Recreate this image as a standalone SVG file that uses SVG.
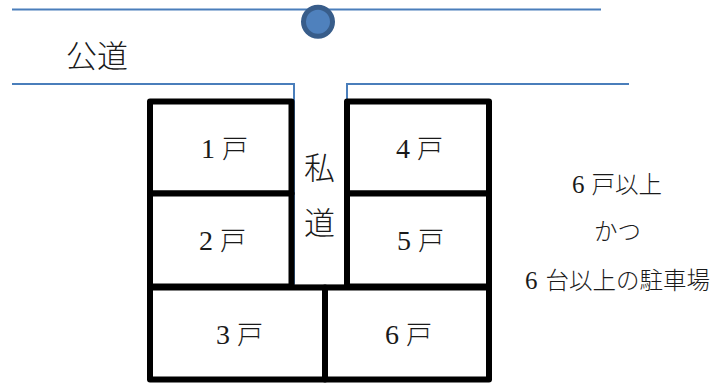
<svg xmlns="http://www.w3.org/2000/svg" width="728" height="383" viewBox="0 0 728 383">
<style>
.road{fill:none;stroke:#4a7ebb;stroke-width:2}
.lot{fill:#fff;stroke:#000;stroke-width:6;stroke-linejoin:round}
text{font-family:"Noto Sans CJK JP",sans-serif;font-weight:300;fill:#1a1a1a}
.n{font-size:26px}
.big{font-size:31px}
.note{font-size:23.500px}
.d{font-family:"Liberation Serif",serif;font-weight:400;font-size:28px}
.dn{font-family:"Liberation Serif",serif;font-weight:400;font-size:25px}
</style>
<rect width="728" height="383" fill="#fff"/>
<g id="connectors">
<path class="road" d="M12 9.500H601"/>
<path class="road" d="M12 84H294V285"/>
<path class="road" d="M629 84H347V100"/>
<path d="M294 285H345" fill="none" stroke="#999" stroke-width="1"/>
</g>
<g id="marker"><circle cx="318" cy="21.700" r="14.500" fill="#4f81bd" stroke="#385d8a" stroke-width="5"/></g>
<g id="road-label"><text class="big" x="66" y="67">公道</text></g>
<g id="lot1"><rect class="lot" x="150" y="101.500" width="141.500" height="92"/><text class="n" x="201" y="158"><tspan class="d">1</tspan><tspan dx="7">戸</tspan></text></g>
<g id="lot2"><rect class="lot" x="150" y="193.500" width="141.500" height="93"/><text class="n" x="199" y="250"><tspan class="d">2</tspan><tspan dx="7">戸</tspan></text></g>
<g id="lot4"><rect class="lot" x="347" y="101.500" width="142" height="92"/><text class="n" x="396" y="158"><tspan class="d">4</tspan><tspan dx="7">戸</tspan></text></g>
<g id="lot5"><rect class="lot" x="347" y="193.500" width="142" height="93"/><text class="n" x="397" y="250"><tspan class="d">5</tspan><tspan dx="7">戸</tspan></text></g>
<g id="lot3"><rect class="lot" x="150" y="287.500" width="175" height="92"/><text class="n" x="216" y="344"><tspan class="d">3</tspan><tspan dx="7">戸</tspan></text></g>
<g id="lot6"><rect class="lot" x="325" y="287.500" width="164" height="92"/><text class="n" x="385" y="344"><tspan class="d">6</tspan><tspan dx="7">戸</tspan></text></g>
<g id="private-road"><text class="big" x="304" y="179">私</text><text class="big" x="304" y="234">道</text></g>
<g id="note">
<text class="note" x="572" y="193"><tspan class="dn">6</tspan><tspan dx="7">戸以上</tspan></text>
<text class="note" x="594" y="240">かつ</text>
<text class="note" x="525" y="289"><tspan class="dn">6</tspan><tspan dx="8">台以上の駐車場</tspan></text>
</g>
</svg>
